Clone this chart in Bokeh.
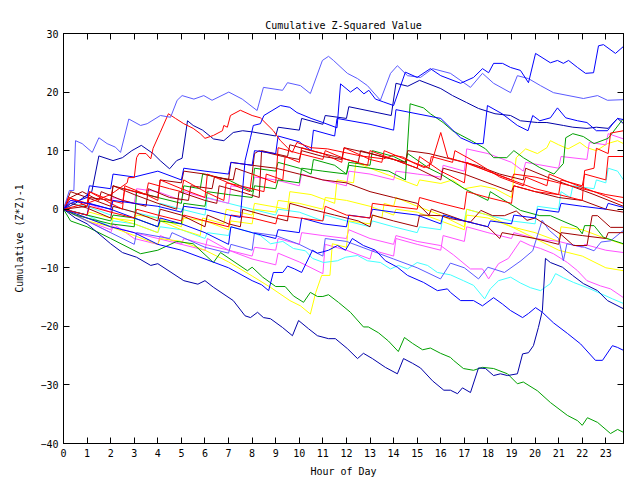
from bokeh.plotting import figure
from bokeh.models import Range1d, LinearAxis, FixedTicker, Title, CustomJSTickFormatter
from bokeh.embed import file_html
from bokeh.resources import INLINE

# ---- data: (hour, cumulative z^2-1) vertices per series ----
s01 = [(0,0),(0.25,3.2),(0.44,3.2),(0.51,11.7),(0.79,11.2),(1.22,9.7),(1.5,12.2),(1.85,11.2),(2.2,10.6),(2.42,9.7),(2.77,15.4),(3.27,14.3),(3.55,14.6),(4.11,16.0),(4.54,15.7),(4.82,18.6),(5.03,19.4),(5.53,18.8),(5.95,19.4),(6.3,18.6),(7.01,20.0),(7.58,18.8),(8.21,16.85),(8.48,20.8),(9.29,20.3),(9.5,21.6),(10.05,21.1),(10.47,19.75),(10.98,25.4),(11.24,26.1),(11.45,25.4),(12.04,23.2),(12.47,22.3),(12.89,21.1),(13.44,18.6),(13.87,23.2),(14.16,24.5),(14.59,22.8),(15.14,22.5),(15.65,24.0),(16.41,23.2),(17.26,20.8),(17.77,23.2),(18.24,21.5),(18.96,19.9),(19.25,22.8),(19.72,22.3),(20.23,21.1),(20.78,19.9),(22.05,18.9),(22.65,19.4),(23.07,18.6),(23.75,18.7)]
s02 = [(0,0),(0.3,1.5),(1,1),(2,0),(2.1,1.5),(3,1),(4,0.5),(5,-0.5),(5.1,0.5),(6,0),(7,-1),(7.5,-1.4),(7.7,8.3),(7.93,12.2),(8.05,14.3),(8.35,14.6),(8.5,16.0),(9.2,17.7),(9.6,17.4),(9.9,16.5),(10.5,15.5),(11.0,14.8),(11.6,13.9),(11.75,21.4),(12.17,20.0),(12.45,20.8),(12.74,19.7),(12.95,20.3),(13.23,18.8),(13.58,18.3),(14.0,17.7),(14.5,23.4),(15,22.5),(15.56,24),(16,22.8),(16.84,21.5),(17.39,22.5),(17.77,24),(18.03,23.3),(18.24,24.9),(18.62,24.9),(18.96,24.2),(19.38,23.7),(19.72,21.6),(20.02,26.6),(20.65,25),(20.95,25.4),(21.2,24.9),(21.42,25.4),(21.8,24.2),(22.14,23.2),(22.48,23.3),(22.69,27.9),(22.9,28.1),(23.41,26.6),(23.75,27.8)]
s03 = [(0,0),(0.5,1),(1.2,3),(1.5,9.1),(2.1,8.3),(2.5,8.8),(2.9,10),(3.3,10.9),(3.8,9.5),(4.1,8.3),(4.5,6.9),(4.8,8.3),(5.03,8.7),(5.26,15.1),(5.5,14.3),(5.9,13.5),(6.36,12.0),(6.8,11.7),(7.2,13.1),(7.6,13.4),(8,13.2),(9,12.5),(9.1,14),(10,13.5),(10.1,15.5),(11,14.5),(11.1,16),(12,15.5),(12.1,17.5),(13.3,16.5),(13.9,16),(14.1,21.5),(14.6,21),(15.1,22),(16,20.6),(16.5,19.4),(17.1,18.2),(17.6,17.2),(18.3,16.3),(18.96,16),(19.38,15.1),(20.1,14.8),(20.5,14.8),(21.2,14.3),(21.6,14),(22.2,13.8),(22.6,14),(23.1,13.8),(23.5,15.5),(23.75,14.6)]
s04 = [(0,0),(0.3,1),(1,2),(1.1,4),(2,3.5),(2.1,6),(3,5.5),(4,6.5),(5,5),(5.1,7),(6,6.5),(7,6),(7.1,8),(8,7.5),(8.1,10),(9,9.5),(9.1,12.5),(10,11.5),(10.5,10),(10.6,13.5),(11.5,12.5),(11.6,15.5),(13,14.5),(14,13.5),(14.1,17),(16,15.5),(16.84,12.2),(17.4,11.2),(17.8,11.2),(17.98,17.7),(18.6,16.3),(19.25,14.3),(19.7,13.4),(19.9,16),(20.2,15.1),(20.65,15.6),(20.95,17.3),(21.3,15.6),(21.8,15.1),(22.2,14.8),(22.6,13.4),(23.07,13.4),(23.3,14.6),(23.5,15.5),(23.75,15.3)]
s05 = [(0,0),(1,-1),(2,-2),(2.1,-1),(3,-1.5),(4,-3),(4.1,-2),(5,-2.5),(5.1,1),(6,0.5),(6.1,3),(7,2.5),(8,2),(8.1,4),(9,3.5),(9.1,5),(10,4.5),(10.1,7),(11,6.5),(12,6),(12.1,7.5),(13,7),(13.8,6.5),(14.5,5),(14.7,18),(15.27,17.3),(15.56,16.3),(16.1,14.8),(16.5,13.4),(17.3,11.7),(17.9,10.3),(18.24,8.8),(18.8,8.8),(19.1,10),(19.5,8.8),(20.2,7.1),(20.8,6.0),(21.2,7.8),(21.3,12.2),(21.6,12.9),(22.05,12.4),(22.5,11.2),(23.1,12.1),(23.75,15.5)]
s06 = [(0,0),(1,1),(2,2.5),(2.7,4.5),(2.75,5.4),(3.0,5.4),(3.1,8.8),(3.2,9.5),(3.5,9.5),(3.7,8.6),(3.8,10.4),(4.1,13.1),(4.45,16.3),(4.75,15.5),(5.1,14.6),(5.5,13.8),(5.8,12.9),(6.0,12.1),(6.36,12.6),(6.74,13.4),(6.8,14.3),(6.95,14),(7.08,16),(7.5,16.9),(8.0,16),(8.35,15.6),(8.9,13.4),(9.2,11.7),(9.5,10.5),(9.7,9.7),(9.9,11.4),(10.5,10.5),(11.2,10.3),(12.6,9.1),(13.57,8.6),(14,9.2),(14.4,8.9),(14.85,7.9),(15.3,7.1),(15.6,7.8),(16.0,13.1),(16.3,8.8),(17,8),(18,6.5),(19,5),(19.1,6),(20,5.5),(21,4.5),(22,3.5),(23,2.5),(23.75,2)]
s07 = [(0,0),(0.25,2),(1,0.5),(1.1,3),(2,1),(2.5,0),(2.6,4),(3.5,2.5),(4,1.5),(4.1,5),(5,3.5),(6,2),(6.1,6),(7,4.5),(7.9,3),(8,6),(9,4.5),(9.1,10.5),(10,9.5),(11,8.5),(11.1,10),(12,8.5),(12.9,7.5),(13,10),(14,8.5),(15,7),(15.1,9),(16,6.5),(17,4.5),(17.1,8),(18,6.5),(19,5),(20,3.5),(21,2.5),(22,1.5),(22.1,6.6),(22.5,7),(22.6,10.4),(23.1,9.5),(23.2,13),(23.75,13.4)]
s08 = [(0,0),(0.3,3),(1,2),(2,0.5),(2.1,4),(3,2.5),(4,1),(4.8,0),(4.9,3),(6,1.5),(6.5,1),(6.6,4),(7.5,3),(8.3,2),(8.4,10),(9.5,9),(9.6,11),(10.5,10),(11.5,9),(12.5,8),(12.6,10),(13.5,9),(14.5,8),(14.6,10),(15.5,9.5),(16.5,8.5),(17.5,7.5),(18.5,6),(19.5,5),(19.6,7),(20.5,5.5),(21.5,4),(22.5,2.5),(23.75,0.5)]
s09 = [(0,0),(1,-2),(2,-3),(3,-4.5),(4,-6),(4.1,-5),(5,-5.5),(6,-7),(7,-9),(8,-11.4),(8.8,-13.4),(9.6,-15.6),(10.05,-16.5),(10.47,-17.9),(10.7,-14.2),(10.95,-11.3),(11.3,-11.3),(11.4,-5.9),(12,-6.5),(12.1,-2),(13,-2.5),(13.1,-1),(13.5,-1.5),(13.6,1),(14,0.5),(14.1,2),(15,0.5),(16,-1),(17,-3),(17.1,0),(18,-1),(19,-3),(20,-5),(21,-7),(22,-8),(23,-10),(23.75,-10.5)]
s10 = [(0,0),(0.5,-1.5),(1,-2.5),(2,-5.9),(2.5,-7.4),(3.1,-8.2),(3.7,-9.6),(4.0,-9.3),(5.1,-12.2),(5.7,-12.8),(6.0,-12.2),(6.35,-13.3),(7.2,-15.6),(7.7,-18.2),(7.93,-18.5),(8.23,-17.6),(8.48,-18.5),(8.78,-18.7),(9.29,-20.2),(9.71,-21.6),(9.97,-19.0),(10.39,-20.4),(10.77,-21.6),(11.24,-22.1),(11.53,-22.1),(12.04,-23.8),(12.47,-25.5),(12.72,-24.6),(13.1,-25.5),(13.65,-27.0),(14.16,-28.1),(14.42,-25.5),(14.8,-26.3),(15.14,-27.1),(15.65,-29.3),(16.13,-30.9),(16.41,-30.9),(16.71,-31.5),(16.92,-30.5),(17.26,-31.3),(17.6,-27.1),(17.9,-27.2),(18.24,-28.4),(18.53,-28.1),(18.83,-28.4),(19.25,-28.1),(19.47,-24.7),(19.72,-24.5),(19.93,-23.3),(20.14,-20.2),(20.31,-17.3),(20.44,-8.4),(20.65,-9.1),(21.16,-9.9),(21.59,-11.3),(22.05,-12.7),(22.65,-13.9),(23.07,-15.6),(23.75,-17.0)]
s11 = [(0,0),(1,-1.5),(2,-3),(3,-4),(4,-6),(5,-7),(6,-8.5),(7,-10),(8,-12.2),(8.4,-12.9),(8.7,-13.9),(8.9,-10.8),(9.3,-10.8),(9.5,-9.7),(9.8,-10.2),(10.1,-10.8),(10.56,-7.0),(10.77,-7.5),(10.98,-7.3),(11.24,-7.0),(11.62,-6.2),(11.96,-7.0),(12.25,-5.0),(12.72,-6.2),(13.23,-7.0),(13.65,-8.8),(14.16,-9.9),(14.59,-11.3),(15.27,-12.5),(15.86,-13.9),(16.28,-13.6),(16.41,-14.2),(16.84,-15.6),(17.39,-15.6),(17.77,-16.5),(18.24,-15.1),(18.62,-16.2),(18.96,-17.3),(19.47,-18.5),(19.72,-17.8),(20.02,-16.8),(20.31,-17.6),(20.78,-19.4),(21.37,-21.2),(21.93,-23.0),(22.56,-25.8),(22.86,-25.8),(23.28,-23.3),(23.5,-23.6),(23.75,-24.1)]
s12 = [(0,0),(0.3,-2),(1,-3),(2,-5),(3.27,-7.6),(4,-7),(4.8,-5.5),(5.5,-5.9),(6.36,-9.1),(6.66,-7.4),(7.8,-10.5),(8.0,-9.9),(8.45,-11.6),(9.0,-13.2),(9.4,-13.2),(9.75,-14.8),(10.18,-15.9),(10.47,-14.2),(10.77,-14.9),(11.0,-14.9),(11.24,-14.6),(11.66,-15.9),(12.17,-17.6),(12.72,-20.1),(12.93,-20.1),(13.36,-21.1),(13.78,-22.5),(14.2,-24.3),(14.46,-21.9),(14.8,-22.9),(15.23,-24.0),(15.56,-23.7),(15.99,-24.6),(16.41,-25.3),(16.54,-25.8),(16.96,-27.2),(17.39,-27.5),(17.77,-27.0),(18.24,-27.2),(18.83,-28.1),(19.25,-29.8),(19.5,-29.5),(20.1,-31.0),(20.65,-33.0),(21.37,-35.2),(21.8,-36.1),(22.0,-36.9),(22.22,-35.6),(22.65,-36.4),(23.2,-38.3),(23.5,-37.6),(23.75,-38.1)]
s13 = [(0,0),(1,-1),(2,-3),(2.1,-2),(3,-2.5),(4,-4),(4.1,-3),(5,-3.5),(6,-5),(6.1,-4),(7,-4.5),(7.1,-3),(7.93,-3.9),(8.35,-4.5),(8.78,-5.9),(9.3,-5.5),(9.75,-6.7),(10.26,-7.1),(10.56,-8.4),(11.03,-9.1),(11.62,-8.8),(11.96,-8.2),(12.47,-7.9),(12.89,-8.8),(13.44,-9.1),(13.87,-10.2),(14.2,-9.6),(14.59,-10.2),(15.0,-9.1),(15.44,-9.6),(15.86,-10.8),(16.41,-11.2),(16.96,-12.2),(17.39,-13.0),(17.86,-15.3),(18.1,-13.6),(18.45,-12.2),(18.96,-11.6),(19.38,-12.6),(19.8,-13.4),(20.23,-13.9),(20.65,-12.7),(20.87,-11.0),(21.2,-11.7),(21.63,-12.5),(22.22,-13.4),(22.78,-14.4),(23.28,-15.3),(23.75,-16.1)]
s14 = [(0,0),(1,-2),(2,-4),(2.1,-3),(3,-4),(4,-5),(5,-6),(5.1,-5),(6,-6),(7,-7),(8,-8),(8.1,-6.5),(9,-7),(9.1,-5),(10,-6),(10.1,-4),(11,-4.5),(12,-5),(12.1,-3.5),(13,-5),(14,-6),(14.1,-4.5),(15,-5.5),(15.99,-6.2),(16.54,-7.8),(17.26,-10.2),(17.77,-10.2),(18.03,-11.9),(18.45,-9.3),(18.87,-8.4),(19.38,-5.4),(19.8,-6.2),(20.23,-6.7),(20.78,-7.6),(21.37,-9.1),(21.8,-10.5),(22.2,-12.2),(22.78,-13.1),(23.2,-13.6),(23.75,-15.1)]
s15 = [(0,0),(1,-2),(2,-4),(3,-6),(3.1,-4),(4.5,-5),(4.6,-4),(6,-6.5),(7,-7.5),(7.1,-6),(8,-7),(8.1,-4),(9,-4.5),(10,-6),(11,-8),(11.1,-5),(12,-5.5),(13,-7),(14,-8.5),(15,-10),(15.99,-11.9),(16.41,-9.2),(17.0,-10),(17.6,-11.9),(18.0,-9.9),(18.7,-10.8),(19.4,-8.8),(19.9,-7.1),(20.3,-1.9),(20.6,-3.6),(21,-5),(21.2,-8.8),(21.35,-5.9),(22.1,-6.5),(22.5,-7.1),(22.8,-5.6),(23.2,-5.4),(23.75,-3.6)]
s16 = [(0,0),(0.3,1),(1,0.2),(2,-1.5),(2.1,0.5),(3,-0.5),(4,-2),(4.1,0),(5,-1),(6,-3),(6.1,-1),(7,-2.5),(7.5,-3),(7.6,0),(8.5,-1),(9.5,-2),(9.6,1),(10.5,0),(11.5,-1),(12.5,-2),(13,-3),(13.1,-1),(14,-2),(15,-3),(15.1,-1),(15.99,-1.1),(16.41,-1.6),(17.26,-2.2),(17.7,-0.2),(18.2,-1.1),(18.7,-1.1),(19.2,-0.3),(19.66,-1.9),(20.0,-1.5),(21.07,-4.2),(21.63,-6.2),(22.2,-6.2),(22.42,-1.1),(22.65,-1.1),(23.2,-3.1),(23.75,-3.1)]
s17 = [(0,0),(0.2,2),(1,1),(1.1,3),(2,1.5),(2.5,1),(2.6,3.5),(3.5,2.5),(3.6,4.5),(4.5,3.5),(5,3),(5.1,5),(6,3),(6.8,1.5),(6.9,4.5),(7.5,4),(8.5,3),(8.6,6),(9.3,5),(9.4,9),(10,8),(10.1,10.5),(11,9.5),(11.8,8),(11.9,10.5),(13,8.5),(13.5,8),(13.6,10),(14.5,8.5),(15.5,7),(15.6,9),(16.5,8),(16.6,10),(17.5,8),(18.5,5.5),(19.5,4),(19.6,5.5),(20.5,4),(20.6,6),(21.5,4.5),(22.5,3),(23.75,1)]
s18 = [(0,0),(0.3,2),(0.8,3),(1.5,1.5),(1.6,3),(2.5,1.5),(3.5,0.5),(3.6,3.5),(4.5,2),(5.3,1.5),(5.4,4),(6.3,3.5),(6.4,5.5),(7.2,5),(7.3,7),(8,6),(8.1,9.5),(8.3,10),(9.3,9),(10,8.5),(10.1,10),(11,9),(11.8,8.5),(11.9,10.5),(13,9.5),(14,8.5),(15,7),(15.5,6),(16,5),(16.1,7),(17,6),(18,4.5),(19,3),(19.1,4),(20,3),(21,2),(22,1.5),(23,0),(23.75,-0.5)]
s19 = [(0,0),(0.5,-1),(1,-1.5),(2,-2.5),(3,-3),(3.1,3),(4,2),(5,1),(5.1,4),(5.8,3.5),(5.9,6),(7,5),(7.5,4),(8,3),(8.1,7),(9,6.5),(9.1,8),(10,7),(10.5,6),(10.6,8.5),(11.5,7.5),(12,6),(12.1,8),(13,7.5),(13.1,10),(14,9),(14.5,8),(14.6,9.5),(15.5,7),(16,6),(17,3.5),(18,1.5),(18.1,3),(19.38,-0.2),(20.2,-1.1),(20.65,-1.1),(21.1,-1.9),(21.8,-3.1),(22.0,-4.2),(22.1,-2.8),(22.5,-2.8),(22.9,-4.8),(23.75,-5.9)]
s20 = [(0,0),(1,-1.5),(2,-3),(2.1,-1.5),(3,-2.5),(4,-4),(4.1,-2),(5,-3.5),(5.8,-4.5),(5.9,-1.5),(6.8,-2.5),(6.9,0),(8,-1),(8.1,1),(9.5,0),(9.6,3),(10.5,2.5),(11.5,1),(11.6,5),(12.3,4.5),(12.4,8),(13,7),(14,5.5),(15,4),(15.1,5),(16,4.4),(16.5,5),(17,3.5),(17.7,4),(18.3,3.5),(19,2),(19.2,8.8),(19.6,10.3),(20.1,9.5),(20.5,10.5),(20.65,11.7),(21,11),(21.4,10.3),(21.9,11.4),(22.2,10.5),(22.6,10),(23.07,11.2),(23.5,11.7),(23.75,11.2)]
s21 = [(0,0),(0.3,1.5),(1,1),(2,-0.5),(2.1,2),(3,1),(3.1,3.5),(4,3),(5,1.5),(5.1,3),(6,2),(7,1),(7.1,4),(8,3.5),(8.1,5.5),(9,5),(10,4),(10.1,6),(11,5),(12,4),(12.1,6.5),(13,6),(14,5),(14.1,6.5),(15,6),(16,5.5),(16.1,7.5),(17,6.5),(17.1,10.3),(18,9.5),(19,8),(19.5,6.5),(19.6,8),(21,7),(21.1,9),(22.2,8.5),(22.3,11.4),(23.0,11),(23.1,12.9),(23.75,12)]
s22 = [(0,0),(1,-2),(2,-3.5),(2.1,-2.5),(3,-5),(4,-6),(4.1,-4.5),(5,-6),(6,-7),(6.1,-5),(7,-7),(8,-8.5),(9,-9.5),(9.1,-7.5),(10,-9),(11,-11),(11.1,-6),(12,-7),(13,-8.5),(13.1,-7),(14,-8),(14.1,-5),(15,-6),(16,-7),(16.1,-4.5),(17,-5.5),(17.1,-3),(18,-4),(19,-5),(19.1,-4),(20,-5),(21,-5.5),(22,-6.5),(22.1,-6),(23,-7),(23.75,-7.4)]
s23 = [(0,0),(0.3,1),(1,0.5),(2,-1),(2.1,0.5),(3,-0.5),(4,-1.5),(4.1,1),(5,0),(6,-1),(6.1,2),(7,1),(8,0),(9,-1),(9.1,0),(10,-0.5),(11,-2),(11.1,-1),(12,-2),(13,-3),(13.1,-2),(14,-3),(15,-4),(15.1,-3),(16,-3.5),(16.1,-1),(17,-2),(17.1,0),(18,-1),(19,-2),(20,-2.5),(20.1,0.5),(21,0),(21.1,3),(21.5,2),(21.6,4),(22.5,3.5),(22.6,5),(23,4.5),(23.1,7),(23.5,6.5),(23.75,5)]
s24 = [(0,0),(1,-1),(1.1,1),(2,0),(3,-1.5),(4,-3),(4.1,-1.5),(5,-2.5),(6,-4),(7,-6),(7.1,-3),(8,-4),(9,-5),(9.1,-3.5),(10,-4),(10.1,-1.5),(11,-2.5),(12,-3),(12.1,-1),(13,-1.5),(13.1,0),(14,-0.5),(15,-1),(16,-2.5),(16.1,-1),(17,-2),(18,-3),(18.1,-2),(19,-2.5),(19.1,-1),(20,-1.5),(20.1,0),(21,-0.5),(21.1,1),(22,0.5),(23,0),(23.1,1),(23.75,0.3)]
s25 = [(0,0),(1,-1),(1.1,0.5),(2,-0.5),(3,-1.5),(3.1,0),(4,-1),(5,-2),(5.1,-1),(6,-2),(7,-3),(7.1,-1),(8,-1.5),(9,-2.5),(9.1,-1),(10,-1.5),(11,-2),(11.1,0.5),(12,-1),(13,-1.5),(13.1,1),(14,0.5),(15,0),(15.1,2),(16,1),(17,0),(17.1,3),(18,2),(19,1),(19.1,4),(20,3),(21,2.5),(21.1,5),(22,4),(22.1,6),(23,5),(23.1,9),(23.75,9)]
s26 = [(0,0),(1,0.5),(1.1,2),(2,1.5),(2.1,4),(3,3),(4,2),(4.1,5),(5,4.5),(5.1,6.5),(6,6),(7,5),(7.1,8),(8,7.5),(9,7),(10,6),(11,5),(12,4.5),(13,3),(14,2),(15,1),(15.5,-1),(15.6,0),(17,-2),(18,-3),(18.5,-5),(18.6,-4),(20,-5),(21,-6),(21.1,-4),(22,-4.5),(23,-5),(23.1,-4),(23.75,-4)]
s27 = [(0,0),(1,-1),(1.1,-0.5),(2,-1.5),(3,-2),(3.1,-1),(4,-1.5),(5,-3),(5.1,-1.5),(6,-2),(7,-3.5),(7.1,-2),(8,-2.5),(8.1,0),(9,-0.5),(9.1,1.5),(10,1),(11,0),(11.1,2),(12,1.5),(13,0.5),(14,-1),(14.1,0),(15,-0.5),(16,-2),(17,-3.5),(17.1,-1),(18,-1.5),(19,-3),(20,-4),(21,-5.5),(21.1,-3),(22,-3.5),(23,-5),(23.75,-6)]

series = [
    (s27, "#ffff00"), (s22, "#ff50ff"), (s23, "#40ffff"), (s14, "#ff50ff"), (s13, "#40ffff"),
    (s09, "#ffff00"), (s20, "#ffff00"), (s21, "#ff50ff"), (s15, "#5a5aff"), (s12, "#00a000"),
    (s19, "#00a000"), (s05, "#00a000"), (s16, "#a00000"), (s26, "#a00000"), (s18, "#a00000"),
    (s08, "#a00000"), (s10, "#0000a8"), (s03, "#0000a8"), (s11, "#0000ff"), (s24, "#0000ff"),
    (s04, "#0000ff"), (s25, "#ff0000"), (s17, "#ff0000"), (s07, "#ff0000"), (s06, "#ff0000"),
    (s01, "#5a5aff"), (s02, "#0000ff"),
]

hour_ticks = list(range(0, 24))
value_ticks = [-40, -30, -20, -10, 0, 10, 20, 30]

FONT = "DejaVu Sans Mono"

p = figure(width=640, height=480, output_backend="svg", toolbar_location=None,
           x_range=Range1d(0, 23.75), y_range=Range1d(-40, 30))
p.min_border_left = 63
p.min_border_right = 17
p.min_border_top = 33
p.min_border_bottom = 37
p.background_fill_color = "white"
p.border_fill_color = "white"
p.outline_line_color = "black"
p.outline_line_width = 1
p.xgrid.visible = False
p.ygrid.visible = False

p.title = Title(text="Cumulative Z-Squared Value", align="center",
                text_font=FONT, text_font_size="10px", text_font_style="normal",
                text_color="black", offset=0, standoff=6)

for data, color in series:
    xs = [d[0] for d in data]
    ys = [d[1] for d in data]
    p.line(xs, ys, line_color=color, line_width=1)

for ax in (p.xaxis[0], p.yaxis[0]):
    ax.major_tick_in = 6
    ax.major_tick_out = 0
    ax.minor_tick_in = 0
    ax.minor_tick_out = 0
    ax.axis_line_color = "black"
    ax.major_tick_line_color = "black"
    ax.major_label_text_font = FONT
    ax.major_label_text_font_size = "10px"
    ax.major_label_text_color = "black"
    ax.axis_label_text_font = FONT
    ax.axis_label_text_font_size = "10px"
    ax.axis_label_text_font_style = "normal"
    ax.axis_label_text_color = "black"

p.xaxis[0].ticker = FixedTicker(ticks=hour_ticks)
p.yaxis[0].ticker = FixedTicker(ticks=value_ticks)
p.xaxis[0].axis_label = "Hour of Day"
p.yaxis[0].axis_label = "Cumulative (Z*Z)-1"
p.xaxis[0].major_label_standoff = 5
p.xaxis[0].axis_label_standoff = 6
p.yaxis[0].major_label_standoff = 5
p.yaxis[0].axis_label_standoff = 12

blank = CustomJSTickFormatter(code="return '';")
top = LinearAxis(ticker=FixedTicker(ticks=hour_ticks), major_tick_in=6, major_tick_out=0,
                 minor_tick_in=0, minor_tick_out=0, formatter=blank,
                 major_label_standoff=0)
right = LinearAxis(ticker=FixedTicker(ticks=value_ticks), major_tick_in=6, major_tick_out=0,
                   minor_tick_in=0, minor_tick_out=0, formatter=blank,
                   major_label_standoff=0)
p.add_layout(top, "above")
p.add_layout(right, "right")

open("out.html", "w").write(file_html(p, INLINE))
